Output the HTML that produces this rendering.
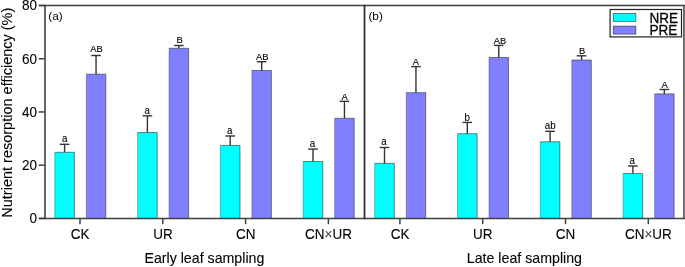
<!DOCTYPE html>
<html><head><meta charset="utf-8"><style>
html,body{margin:0;padding:0;background:#fff;overflow:hidden;}
svg{display:block;}
text{font-family:"Liberation Sans",sans-serif;fill:#000;filter:grayscale(1);}
.sl{font-size:9.7px;text-anchor:middle;stroke:#000;stroke-width:0.12px;}
.tl{font-size:13.5px;stroke:#000;stroke-width:0.1px;}
.lg{font-size:13.5px;stroke:#000;stroke-width:0.3px;}
</style></head><body>
<svg width="685" height="267" viewBox="0 0 685 267">
<rect width="685" height="267" fill="#fff"/>
<rect x="54.80" y="152.30" width="19.60" height="66.00" fill="#00FFFF"/><path d="M54.80 218.3 V152.30" stroke="#222" stroke-width="0.35" fill="none"/><path d="M54.80 152.30 H74.40 V218.3" stroke="#222" stroke-width="0.55" fill="none"/><line x1="64.60" y1="152.30" x2="64.60" y2="144.30" stroke="#333" stroke-width="1.4"/><line x1="59.80" y1="144.30" x2="69.40" y2="144.30" stroke="#333" stroke-width="1.4"/><text transform="translate(64.60,141.70) scale(1,1.1)" class="sl">a</text>
<rect x="86.30" y="74.20" width="19.50" height="144.10" fill="#8080FF"/><path d="M86.30 218.3 V74.20" stroke="#222" stroke-width="0.35" fill="none"/><path d="M86.30 74.20 H105.80 V218.3" stroke="#222" stroke-width="0.55" fill="none"/><line x1="96.05" y1="74.20" x2="96.05" y2="55.50" stroke="#333" stroke-width="1.4"/><line x1="91.25" y1="55.50" x2="100.85" y2="55.50" stroke="#333" stroke-width="1.4"/><text transform="translate(96.50,52.40) scale(1,1.06)" class="sl" style="font-size:9.4px">AB</text>
<rect x="137.60" y="132.50" width="19.60" height="85.80" fill="#00FFFF"/><path d="M137.60 218.3 V132.50" stroke="#222" stroke-width="0.35" fill="none"/><path d="M137.60 132.50 H157.20 V218.3" stroke="#222" stroke-width="0.55" fill="none"/><line x1="147.40" y1="132.50" x2="147.40" y2="115.80" stroke="#333" stroke-width="1.4"/><line x1="142.60" y1="115.80" x2="152.20" y2="115.80" stroke="#333" stroke-width="1.4"/><text transform="translate(147.10,113.80) scale(1,1.1)" class="sl">a</text>
<rect x="169.10" y="48.30" width="19.50" height="170.00" fill="#8080FF"/><path d="M169.10 218.3 V48.30" stroke="#222" stroke-width="0.35" fill="none"/><path d="M169.10 48.30 H188.60 V218.3" stroke="#222" stroke-width="0.55" fill="none"/><line x1="178.85" y1="48.30" x2="178.85" y2="45.50" stroke="#333" stroke-width="1.4"/><line x1="174.05" y1="45.50" x2="183.65" y2="45.50" stroke="#333" stroke-width="1.4"/><text transform="translate(179.70,42.70) scale(1,1.06)" class="sl" style="font-size:9.4px">B</text>
<rect x="220.40" y="145.40" width="19.60" height="72.90" fill="#00FFFF"/><path d="M220.40 218.3 V145.40" stroke="#222" stroke-width="0.35" fill="none"/><path d="M220.40 145.40 H240.00 V218.3" stroke="#222" stroke-width="0.55" fill="none"/><line x1="230.20" y1="145.40" x2="230.20" y2="136.00" stroke="#333" stroke-width="1.4"/><line x1="225.40" y1="136.00" x2="235.00" y2="136.00" stroke="#333" stroke-width="1.4"/><text transform="translate(229.60,133.60) scale(1,1.1)" class="sl">a</text>
<rect x="251.90" y="70.50" width="19.50" height="147.80" fill="#8080FF"/><path d="M251.90 218.3 V70.50" stroke="#222" stroke-width="0.35" fill="none"/><path d="M251.90 70.50 H271.40 V218.3" stroke="#222" stroke-width="0.55" fill="none"/><line x1="261.65" y1="70.50" x2="261.65" y2="61.70" stroke="#333" stroke-width="1.4"/><line x1="256.85" y1="61.70" x2="266.45" y2="61.70" stroke="#333" stroke-width="1.4"/><text transform="translate(262.35,59.80) scale(1,1.06)" class="sl" style="font-size:9.4px">AB</text>
<rect x="303.20" y="161.50" width="19.60" height="56.80" fill="#00FFFF"/><path d="M303.20 218.3 V161.50" stroke="#222" stroke-width="0.35" fill="none"/><path d="M303.20 161.50 H322.80 V218.3" stroke="#222" stroke-width="0.55" fill="none"/><line x1="313.00" y1="161.50" x2="313.00" y2="149.10" stroke="#333" stroke-width="1.4"/><line x1="308.20" y1="149.10" x2="317.80" y2="149.10" stroke="#333" stroke-width="1.4"/><text transform="translate(312.40,146.70) scale(1,1.1)" class="sl">a</text>
<rect x="334.70" y="118.30" width="19.50" height="100.00" fill="#8080FF"/><path d="M334.70 218.3 V118.30" stroke="#222" stroke-width="0.35" fill="none"/><path d="M334.70 118.30 H354.20 V218.3" stroke="#222" stroke-width="0.55" fill="none"/><line x1="344.45" y1="118.30" x2="344.45" y2="101.30" stroke="#333" stroke-width="1.4"/><line x1="339.65" y1="101.30" x2="349.25" y2="101.30" stroke="#333" stroke-width="1.4"/><text transform="translate(344.55,99.60) scale(1,1.06)" class="sl" style="font-size:9.4px">A</text>
<rect x="374.70" y="163.40" width="19.60" height="54.90" fill="#00FFFF"/><path d="M374.70 218.3 V163.40" stroke="#222" stroke-width="0.35" fill="none"/><path d="M374.70 163.40 H394.30 V218.3" stroke="#222" stroke-width="0.55" fill="none"/><line x1="384.50" y1="163.40" x2="384.50" y2="147.50" stroke="#333" stroke-width="1.4"/><line x1="379.70" y1="147.50" x2="389.30" y2="147.50" stroke="#333" stroke-width="1.4"/><text transform="translate(384.05,145.40) scale(1,1.1)" class="sl">a</text>
<rect x="406.20" y="92.70" width="19.50" height="125.60" fill="#8080FF"/><path d="M406.20 218.3 V92.70" stroke="#222" stroke-width="0.35" fill="none"/><path d="M406.20 92.70 H425.70 V218.3" stroke="#222" stroke-width="0.55" fill="none"/><line x1="415.95" y1="92.70" x2="415.95" y2="66.60" stroke="#333" stroke-width="1.4"/><line x1="411.15" y1="66.60" x2="420.75" y2="66.60" stroke="#333" stroke-width="1.4"/><text transform="translate(415.95,65.10) scale(1,1.06)" class="sl" style="font-size:9.4px">A</text>
<rect x="457.50" y="133.70" width="19.60" height="84.60" fill="#00FFFF"/><path d="M457.50 218.3 V133.70" stroke="#222" stroke-width="0.35" fill="none"/><path d="M457.50 133.70 H477.10 V218.3" stroke="#222" stroke-width="0.55" fill="none"/><line x1="467.30" y1="133.70" x2="467.30" y2="122.40" stroke="#333" stroke-width="1.4"/><line x1="462.50" y1="122.40" x2="472.10" y2="122.40" stroke="#333" stroke-width="1.4"/><text transform="translate(467.10,120.50) scale(1,1.1)" class="sl">b</text>
<rect x="489.00" y="57.50" width="19.50" height="160.80" fill="#8080FF"/><path d="M489.00 218.3 V57.50" stroke="#222" stroke-width="0.35" fill="none"/><path d="M489.00 57.50 H508.50 V218.3" stroke="#222" stroke-width="0.55" fill="none"/><line x1="498.75" y1="57.50" x2="498.75" y2="45.40" stroke="#333" stroke-width="1.4"/><line x1="493.95" y1="45.40" x2="503.55" y2="45.40" stroke="#333" stroke-width="1.4"/><text transform="translate(500.00,43.90) scale(1,1.06)" class="sl" style="font-size:9.4px">AB</text>
<rect x="540.30" y="141.80" width="19.60" height="76.50" fill="#00FFFF"/><path d="M540.30 218.3 V141.80" stroke="#222" stroke-width="0.35" fill="none"/><path d="M540.30 141.80 H559.90 V218.3" stroke="#222" stroke-width="0.55" fill="none"/><line x1="550.10" y1="141.80" x2="550.10" y2="131.30" stroke="#333" stroke-width="1.4"/><line x1="545.30" y1="131.30" x2="554.90" y2="131.30" stroke="#333" stroke-width="1.4"/><text transform="translate(550.20,129.40) scale(1,1.1)" class="sl">ab</text>
<rect x="571.80" y="60.00" width="19.50" height="158.30" fill="#8080FF"/><path d="M571.80 218.3 V60.00" stroke="#222" stroke-width="0.35" fill="none"/><path d="M571.80 60.00 H591.30 V218.3" stroke="#222" stroke-width="0.55" fill="none"/><line x1="581.55" y1="60.00" x2="581.55" y2="55.80" stroke="#333" stroke-width="1.4"/><line x1="576.75" y1="55.80" x2="586.35" y2="55.80" stroke="#333" stroke-width="1.4"/><text transform="translate(582.15,54.10) scale(1,1.06)" class="sl" style="font-size:9.4px">B</text>
<rect x="623.10" y="173.50" width="19.60" height="44.80" fill="#00FFFF"/><path d="M623.10 218.3 V173.50" stroke="#222" stroke-width="0.35" fill="none"/><path d="M623.10 173.50 H642.70 V218.3" stroke="#222" stroke-width="0.55" fill="none"/><line x1="632.90" y1="173.50" x2="632.90" y2="166.00" stroke="#333" stroke-width="1.4"/><line x1="628.10" y1="166.00" x2="637.70" y2="166.00" stroke="#333" stroke-width="1.4"/><text transform="translate(632.20,163.70) scale(1,1.1)" class="sl">a</text>
<rect x="654.60" y="93.90" width="19.50" height="124.40" fill="#8080FF"/><path d="M654.60 218.3 V93.90" stroke="#222" stroke-width="0.35" fill="none"/><path d="M654.60 93.90 H674.10 V218.3" stroke="#222" stroke-width="0.55" fill="none"/><line x1="664.35" y1="93.90" x2="664.35" y2="89.50" stroke="#333" stroke-width="1.4"/><line x1="659.55" y1="89.50" x2="669.15" y2="89.50" stroke="#333" stroke-width="1.4"/><text transform="translate(664.70,87.80) scale(1,1.06)" class="sl" style="font-size:9.4px">A</text>
<g fill="none" stroke="#404040">
<line x1="38.8" y1="5.5" x2="684.7" y2="5.5" stroke-width="1.5"/>
<line x1="38.8" y1="218.45" x2="684.7" y2="218.45" stroke-width="1.5"/>
<line x1="45" y1="4.75" x2="45" y2="219.2" stroke-width="1.6"/>
<line x1="364.5" y1="4.75" x2="364.5" y2="219.2" stroke="#333" stroke-width="1.8"/>
<line x1="683.95" y1="4.75" x2="683.95" y2="219.2" stroke-width="1.5"/>
</g>
<line x1="38.8" y1="218.40" x2="45" y2="218.40" stroke="#404040" stroke-width="1.5"/><text transform="translate(37.0,222.90) scale(1,1.08)" class="tl" text-anchor="end">0</text><line x1="38.8" y1="165.18" x2="45" y2="165.18" stroke="#404040" stroke-width="1.5"/><text transform="translate(37.0,170.38) scale(1,1.08)" class="tl" text-anchor="end">20</text><line x1="38.8" y1="111.96" x2="45" y2="111.96" stroke="#404040" stroke-width="1.5"/><text transform="translate(37.0,117.16) scale(1,1.08)" class="tl" text-anchor="end">40</text><line x1="38.8" y1="58.74" x2="45" y2="58.74" stroke="#404040" stroke-width="1.5"/><text transform="translate(37.0,63.64) scale(1,1.08)" class="tl" text-anchor="end">60</text><line x1="38.8" y1="5.52" x2="45" y2="5.52" stroke="#404040" stroke-width="1.5"/><text transform="translate(37.0,10.12) scale(1,1.08)" class="tl" text-anchor="end">80</text><line x1="80.00" y1="218.3" x2="80.00" y2="224.2" stroke="#404040" stroke-width="1.5"/><text transform="translate(80.10,238.6) scale(1,1.08)" class="tl" text-anchor="middle">CK</text><line x1="162.80" y1="218.3" x2="162.80" y2="224.2" stroke="#404040" stroke-width="1.5"/><text transform="translate(162.90,238.6) scale(1,1.08)" class="tl" text-anchor="middle">UR</text><line x1="245.60" y1="218.3" x2="245.60" y2="224.2" stroke="#404040" stroke-width="1.5"/><text transform="translate(245.70,238.6) scale(1,1.08)" class="tl" text-anchor="middle">CN</text><line x1="328.40" y1="218.3" x2="328.40" y2="224.2" stroke="#404040" stroke-width="1.5"/><text transform="translate(328.50,238.6) scale(1,1.08)" class="tl" text-anchor="middle">CN<tspan fill="#555">×</tspan>UR</text><line x1="399.90" y1="218.3" x2="399.90" y2="224.2" stroke="#404040" stroke-width="1.5"/><text transform="translate(400.00,238.6) scale(1,1.08)" class="tl" text-anchor="middle">CK</text><line x1="482.70" y1="218.3" x2="482.70" y2="224.2" stroke="#404040" stroke-width="1.5"/><text transform="translate(482.80,238.6) scale(1,1.08)" class="tl" text-anchor="middle">UR</text><line x1="565.50" y1="218.3" x2="565.50" y2="224.2" stroke="#404040" stroke-width="1.5"/><text transform="translate(565.60,238.6) scale(1,1.08)" class="tl" text-anchor="middle">CN</text><line x1="648.30" y1="218.3" x2="648.30" y2="224.2" stroke="#404040" stroke-width="1.5"/><text transform="translate(648.40,238.6) scale(1,1.08)" class="tl" text-anchor="middle">CN<tspan fill="#555">×</tspan>UR</text>
<text x="48.3" y="19.5" style="font-size:11.8px">(a)</text>
<text x="368.4" y="19.5" style="font-size:11.8px">(b)</text>
<text x="204.4" y="262.6" text-anchor="middle" style="font-size:14.2px;stroke:#000;stroke-width:0.1px">Early leaf sampling</text>
<text x="524.4" y="262.6" text-anchor="middle" style="font-size:14.2px;stroke:#000;stroke-width:0.1px">Late leaf sampling</text>
<text transform="translate(11.7,112.7) rotate(-90)" text-anchor="middle" style="font-size:14.5px;stroke:#000;stroke-width:0.1px">Nutrient resorption efficiency (%)</text>
<rect x="610.1" y="9.5" width="71.4" height="27.4" fill="#fff" stroke="#222" stroke-width="1.2"/>
<rect x="613.2" y="13.5" width="22.7" height="7.9" fill="#00FFFF" stroke="#222" stroke-width="0.55"/>
<rect x="613.2" y="26.1" width="22.7" height="8.0" fill="#8080FF" stroke="#222" stroke-width="0.55"/>
<text transform="translate(649.6,23.0) scale(1,1.12)" class="lg">NRE</text>
<text transform="translate(649.6,35.1) scale(1,1.12)" class="lg">PRE</text>
</svg>
</body></html>
